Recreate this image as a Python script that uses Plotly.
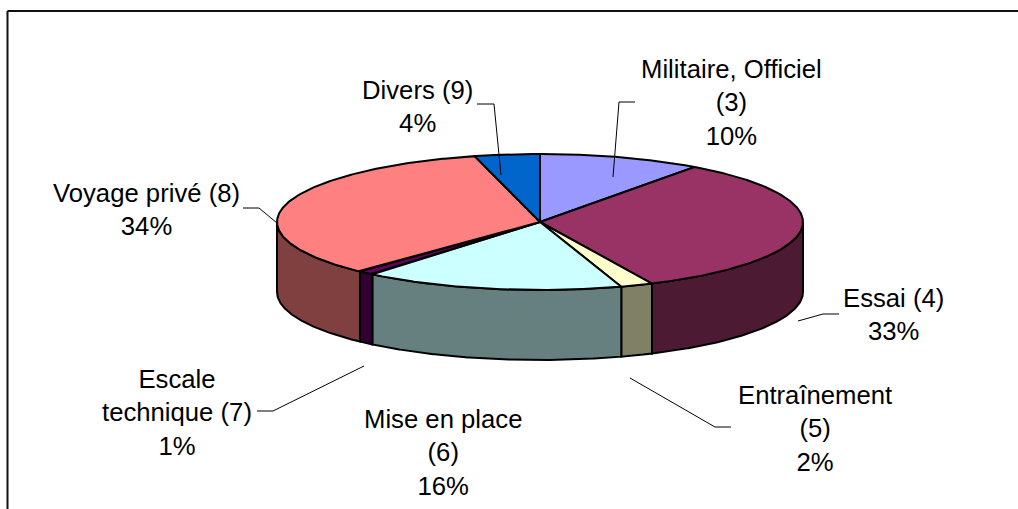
import numpy as np
import plotly.graph_objects as go

# ---------------- data ----------------
categories = ["Militaire, Officiel", "Essai", "Entraînement", "Mise en place",
              "Escale technique", "Voyage privé", "Divers"]
codes = [3, 4, 5, 6, 7, 8, 9]
percents = [10, 33, 2, 16, 1, 34, 4]

# ---------------- styles ----------------
top_colors = ["#9999FF", "#993366", "#FFFFCC", "#CCFFFF", "#660066", "#FF8080", "#0066CC"]
side_colors = ["#4C4C80", "#4D1A33", "#808066", "#668080", "#330033", "#804040", "#003366"]

# label text layouts (line breaks as in the reference)
label_formats = [
    "Militaire, Officiel<br>({code})<br>{pct}%",
    "Essai ({code})<br>{pct}%",
    "Entraînement<br>({code})<br>{pct}%",
    "Mise en place<br>({code})<br>{pct}%",
    "Escale<br>technique ({code})<br>{pct}%",
    "Voyage privé ({code})<br>{pct}%",
    "Divers ({code})<br>{pct}%",
]
# label placement (pixel layout)
label_pos = [(731, 102), (893, 314), (815, 428), (443, 452), (177, 412), (146, 209), (417, 106)]
leader_lines = [
    [(635, 102), (619, 102), (613, 177)],
    [(839, 314), (823, 314), (798, 321)],
    [(731, 427), (715, 427), (630, 378)],
    None,
    [(257, 411), (273, 411), (364, 366)],
    [(243, 208), (259, 208), (277, 223)],
    [(477, 104), (494, 104), (501, 175)],
]

W, H = 1018, 509
CX, CY, RX, RY, DEPTH = 540, 222, 263, 68, 70
FONT = "Liberation Sans, Arial, sans-serif"


def ell(theta_deg, dy=0.0):
    t = np.radians(theta_deg)
    return CX + RX * np.sin(t), CY - RY * np.cos(t) + dy


fig = go.Figure()
total = float(sum(percents))
bounds = np.concatenate([[0.0], np.cumsum(percents)]) / total * 360.0
n = len(percents)

# outer (front) walls
for i in range(n):
    a, b = max(bounds[i], 90.0), min(bounds[i + 1], 270.0)
    if b <= a:
        continue
    th = np.linspace(a, b, 200)
    xt, yt = ell(th)
    xb, yb = ell(th[::-1], DEPTH)
    xs = np.concatenate([xt, xb, [xt[0]]])
    ys = np.concatenate([yt, yb, [yt[0]]])
    fig.add_trace(go.Scatter(x=xs, y=ys, mode="lines", fill="toself",
                             fillcolor=side_colors[i],
                             line=dict(color="black", width=2),
                             hoverinfo="skip", showlegend=False))

# top faces
for i in range(n):
    th = np.linspace(bounds[i], bounds[i + 1], 300)
    xt, yt = ell(th)
    xs = np.concatenate([[CX], xt, [CX]])
    ys = np.concatenate([[CY], yt, [CY]])
    fig.add_trace(go.Scatter(x=xs, y=ys, mode="lines", fill="toself",
                             fillcolor=top_colors[i],
                             line=dict(color="black", width=2),
                             name=categories[i],
                             hovertext=f"{categories[i]} ({codes[i]}): {percents[i]}%",
                             hoverinfo="text", showlegend=False))

# leader lines
for pts in leader_lines:
    if pts is None:
        continue
    fig.add_trace(go.Scatter(x=[p[0] for p in pts], y=[p[1] for p in pts], mode="lines",
                             line=dict(color="black", width=1),
                             hoverinfo="skip", showlegend=False))

annotations = []
for i in range(n):
    annotations.append(dict(
        x=label_pos[i][0], y=label_pos[i][1], xref="x", yref="y",
        text=label_formats[i].format(code=codes[i], pct=percents[i]),
        showarrow=False, xanchor="center", yanchor="middle", align="center",
        font=dict(family=FONT, size=25.7, color="black"),
    ))

shapes = [
    dict(type="line", xref="x", yref="y", x0=7.5, y0=11, x1=W + 10, y1=11,
         line=dict(color="#111111", width=2)),
    dict(type="line", xref="x", yref="y", x0=7.5, y0=11, x1=7.5, y1=H + 10,
         line=dict(color="#111111", width=2)),
]

fig.update_layout(
    width=W, height=H,
    margin=dict(l=0, r=0, t=0, b=0),
    paper_bgcolor="white", plot_bgcolor="white",
    xaxis=dict(range=[0, W], visible=False, fixedrange=True),
    yaxis=dict(range=[H, 0], visible=False, fixedrange=True),
    annotations=annotations,
    shapes=shapes,
    showlegend=False,
)

fig.write_html("out.html", config={"displayModeBar": False})

# remove the browser's default page margin so the figure sits at (0, 0)
with open("out.html", "r", encoding="utf-8") as f:
    html = f.read()
html = html.replace("<head>", "<head><style>html,body{margin:0;padding:0;overflow:hidden;}</style>", 1)
with open("out.html", "w", encoding="utf-8") as f:
    f.write(html)
